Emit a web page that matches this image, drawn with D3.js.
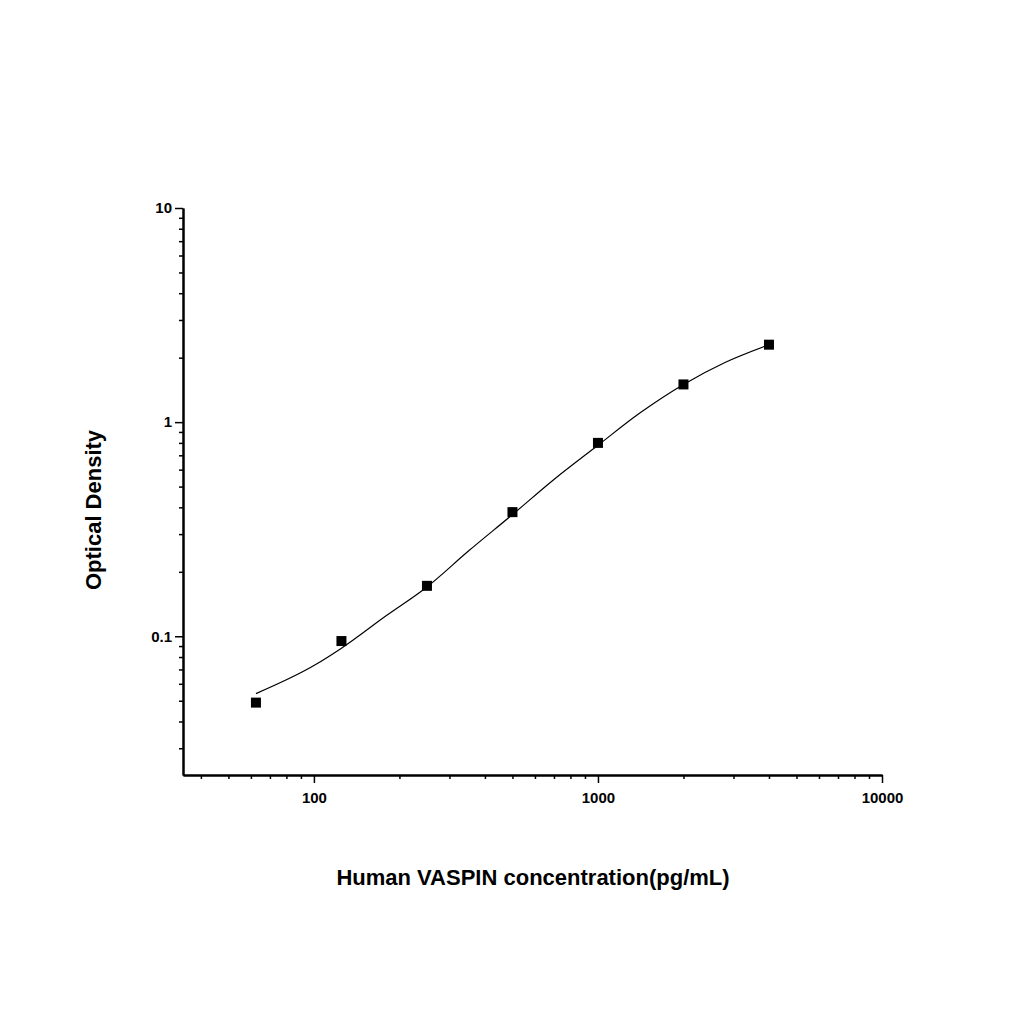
<!DOCTYPE html>
<html><head><meta charset="utf-8">
<script src="https://cdn.jsdelivr.net/npm/d3@7"></script>
<style>
body{margin:0;background:#fff;}
text{font-family:"Liberation Sans",Arial,sans-serif;font-weight:bold;fill:#000;}
</style></head>
<body><div id="chart"></div>
<script>
// standard points
var concentrations = [62.5, 125, 250, 500, 1000, 2000, 4000];
var densities = [0.049, 0.095, 0.172, 0.38, 0.80, 1.5, 2.3];
// fitted curve
var curveX = [62.5, 100, 125, 180, 250, 350, 500, 700, 1000, 1400, 2000, 2800, 4000];
var curveY = [0.054, 0.073, 0.088, 0.125, 0.17, 0.25, 0.37, 0.54, 0.78, 1.1, 1.5, 1.9, 2.3];
var xTicks = [100, 1000, 10000];
var yTicks = [0.1, 1, 10];

var svg = d3.select('#chart').append('svg').attr('width', 1024).attr('height', 1024);
var x = d3.scaleLog().domain([34.6, 10000]).range([183, 882]);
var y = d3.scaleLog().domain([0.0225, 10]).range([775, 208]);

var minorX = [];
[10, 100, 1000].forEach(function (d) { for (var i = 2; i <= 9; i++) { var v = d * i; if (v >= 34.6 && v < 10000) minorX.push(v); } });
var minorY = [];
[0.01, 0.1, 1].forEach(function (d) { for (var i = 2; i <= 9; i++) { var v = d * i; if (v >= 0.0225 && v < 10) minorY.push(v); } });

var xa = svg.append('g').attr('transform', 'translate(0,775)');
xa.call(d3.axisBottom(x).tickValues(xTicks).tickSize(8).tickSizeOuter(0).tickFormat(d3.format('d')));
xa.append('g').call(d3.axisBottom(x).tickValues(minorX).tickSize(4).tickSizeOuter(0).tickFormat(''));
var ya = svg.append('g').attr('transform', 'translate(183,0)');
ya.call(d3.axisLeft(y).tickValues(yTicks).tickSize(8).tickSizeOuter(0).tickFormat(function (d) { return d < 1 ? '0.1' : d3.format('d')(d); }));
ya.append('g').call(d3.axisLeft(y).tickValues(minorY).tickSize(4).tickSizeOuter(0).tickFormat(''));
svg.selectAll('.domain').attr('stroke-width', 2);
svg.selectAll('.tick line').attr('stroke-width', 1.5);
svg.selectAll('.tick text').style('font-size', '15px');
xa.selectAll('.tick text').attr('dy', '1.1em');

svg.append('path')
  .datum(curveX.map(function (d, i) { return [d, curveY[i]]; }))
  .attr('fill', 'none').attr('stroke', '#000').attr('stroke-width', 1.2)
  .attr('d', d3.line().curve(d3.curveMonotoneX).x(function (d) { return x(d[0]); }).y(function (d) { return y(d[1]); }));

svg.selectAll('.pt').data(concentrations).enter().append('rect')
  .attr('x', function (d) { return x(d) - 5; })
  .attr('y', function (d, i) { return y(densities[i]) - 5; })
  .attr('width', 10).attr('height', 10).attr('fill', '#000');

svg.append('text').attr('x', 533).attr('y', 885).attr('text-anchor', 'middle')
  .style('font-size', '22px').text('Human VASPIN concentration(pg/mL)');
svg.append('text').attr('transform', 'translate(101,510) rotate(-90)').attr('text-anchor', 'middle')
  .style('font-size', '22px').text('Optical Density');
</script></body></html>
